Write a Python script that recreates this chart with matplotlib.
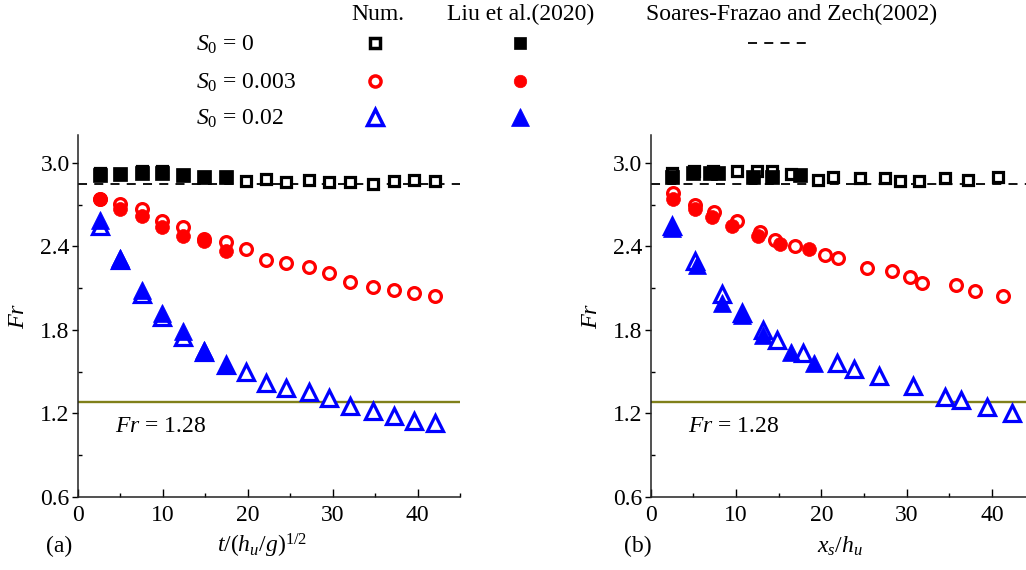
import matplotlib
matplotlib.use("Agg")
import matplotlib.pyplot as plt
from matplotlib.lines import Line2D
from matplotlib.ticker import MultipleLocator, FormatStrFormatter

FS = 17

plt.rcParams.update({
    "font.family": "Liberation Serif",
    "mathtext.fontset": "custom",
    "mathtext.rm": "Liberation Serif",
    "mathtext.it": "Liberation Serif:italic",
    "mathtext.bf": "Liberation Serif:bold",
    "font.size": FS,
})

# ---------------- data ----------------
slope_labels = [r"$S_0$ = 0", r"$S_0$ = 0.003", r"$S_0$ = 0.02"]
fr_critical = 1.28
fr_soares = 2.85

# (a) Froude number vs dimensionless time
t_num = [2.6, 4.9, 7.5, 9.9, 12.4, 14.8, 17.4, 19.8, 22.2, 24.5, 27.2, 29.6,
         32.1, 34.7, 37.2, 39.6, 42.0]
t_liu = [2.6, 4.9, 7.5, 9.9, 12.4, 14.8, 17.4]

a_num_s0 = [2.93, 2.92, 2.94, 2.94, 2.91, 2.90, 2.90, 2.87, 2.885, 2.865, 2.88,
            2.86, 2.865, 2.85, 2.87, 2.875, 2.87]
a_num_s3 = [2.74, 2.705, 2.67, 2.585, 2.54, 2.45, 2.43, 2.38, 2.30, 2.28, 2.25,
            2.21, 2.146, 2.105, 2.086, 2.067, 2.045]
a_num_s2 = [2.55, 2.30, 2.06, 1.895, 1.75, 1.645, 1.545, 1.50, 1.42, 1.38,
            1.355, 1.31, 1.255, 1.215, 1.18, 1.146, 1.13]

a_liu_s0 = [2.91, 2.92, 2.93, 2.93, 2.91, 2.90, 2.90]
a_liu_s3 = [2.74, 2.67, 2.62, 2.54, 2.475, 2.44, 2.37]
a_liu_s2 = [2.59, 2.315, 2.086, 1.92, 1.79, 1.655, 1.55]

# (b) Froude number vs dimensionless front position
b_num_s0_x = [2.5, 5.1, 7.3, 10.1, 12.5, 14.2, 16.5, 19.6, 21.4, 24.5, 27.5,
              29.2, 31.4, 34.5, 37.2, 40.7]
b_num_s0_y = [2.93, 2.94, 2.94, 2.945, 2.94, 2.945, 2.92, 2.875, 2.895, 2.89,
              2.89, 2.868, 2.873, 2.89, 2.88, 2.90]
b_num_s3_x = [2.65, 5.2, 7.4, 10.1, 12.8, 14.6, 16.9, 20.4, 22.0, 25.3, 28.3,
              30.4, 31.8, 35.8, 38.0, 41.3]
b_num_s3_y = [2.78, 2.70, 2.65, 2.58, 2.506, 2.446, 2.40, 2.34, 2.315, 2.245,
              2.22, 2.18, 2.14, 2.125, 2.08, 2.045]
b_num_s2_x = [2.5, 5.2, 8.4, 10.7, 13.2, 14.8, 17.9, 21.8, 23.8, 26.8, 30.8,
              34.5, 36.4, 39.4, 42.3]
b_num_s2_y = [2.55, 2.295, 2.06, 1.92, 1.80, 1.727, 1.637, 1.56, 1.52, 1.47,
              1.395, 1.32, 1.297, 1.25, 1.205]

b_liu_s0_x = [2.46, 5.0, 6.95, 7.9, 12.0, 14.2, 17.5]
b_liu_s0_y = [2.90, 2.925, 2.925, 2.925, 2.896, 2.90, 2.915]
b_liu_s3_x = [2.65, 5.2, 7.15, 9.5, 12.6, 15.2, 18.5]
b_liu_s3_y = [2.74, 2.67, 2.61, 2.545, 2.477, 2.415, 2.38]
b_liu_s2_x = [2.5, 5.4, 8.4, 10.7, 13.2, 16.5, 19.2]
b_liu_s2_y = [2.53, 2.267, 1.99, 1.906, 1.76, 1.643, 1.56]

# ---------------- styles ----------------
colors = ["black", "red", "blue"]
markers = ["s", "o", "^"]
open_ms = [7.5, 8.5, 11.5]
fill_ms = [10, 10, 13.5]
OLIVE = "#80801a"
DASH = (0, (5, 4))

W, H = 1026, 570
fig = plt.figure(figsize=(W / 100, H / 100), dpi=100)


def fx(px):
    return px / W


def fy(py):
    return 1 - py / H


ax_a = fig.add_axes([fx(78), fy(497), 382 / W, 362 / H])
ax_b = fig.add_axes([fx(650.7), fy(497), 383.9 / W, 362 / H])


def style_axes(ax):
    ax.set_xlim(0, 45)
    ax.set_ylim(0.6, 3.2)
    for side in ("top", "right"):
        ax.spines[side].set_visible(False)
    for side in ("left", "bottom"):
        ax.spines[side].set_linewidth(1.1)
        ax.spines[side].set_color("#222222")
    ax.xaxis.set_major_locator(MultipleLocator(10))
    ax.xaxis.set_minor_locator(MultipleLocator(5))
    ax.yaxis.set_major_locator(MultipleLocator(0.6))
    ax.yaxis.set_minor_locator(MultipleLocator(0.3))
    ax.yaxis.set_major_formatter(FormatStrFormatter("%.1f"))
    ax.tick_params(axis="x", which="major", direction="in", length=6, width=1,
                   pad=6, labelsize=FS)
    ax.tick_params(axis="x", which="minor", direction="in", length=3, width=1)
    ax.tick_params(axis="y", which="major", direction="out", length=4, width=1,
                   pad=2, labelsize=FS)
    ax.tick_params(axis="y", which="minor", direction="in", length=3, width=1)


def draw(ax, num_series, liu_series):
    ax.axhline(fr_critical, color=OLIVE, lw=1.7, zorder=1)
    ax.axhline(fr_soares, color="black", lw=1.3, ls=DASH, zorder=1)
    for i, (x, y) in enumerate(num_series):
        ax.plot(x, y, ls="none", marker=markers[i], ms=open_ms[i],
                mfc="white", mec=colors[i], mew=2.3, zorder=3)
    for i, (x, y) in enumerate(liu_series):
        ax.plot(x, y, ls="none", marker=markers[i], ms=fill_ms[i],
                mfc=colors[i], mec=colors[i], mew=0.5, zorder=4)
    ax.text(4.4, 1.105, r"$Fr$ = 1.28", fontsize=FS, va="center", ha="left")
    ax.set_ylabel(r"$Fr$", fontsize=FS + 0.5, labelpad=8)
    style_axes(ax)


draw(ax_a,
     [(t_num, a_num_s0), (t_num, a_num_s3), (t_num, a_num_s2)],
     [(t_liu, a_liu_s0), (t_liu, a_liu_s3), (t_liu, a_liu_s2)])
draw(ax_b,
     [(b_num_s0_x, b_num_s0_y), (b_num_s3_x, b_num_s3_y),
      (b_num_s2_x, b_num_s2_y)],
     [(b_liu_s0_x, b_liu_s0_y), (b_liu_s3_x, b_liu_s3_y),
      (b_liu_s2_x, b_liu_s2_y)])

# axis titles and panel tags
fig.text(fx(262), fy(546), r"$t/(h_u/g)^{1/2}$", ha="center", va="center",
         fontsize=FS)
fig.text(fx(840), fy(546), r"$x_s/h_u$", ha="center", va="center",
         fontsize=FS)
fig.text(fx(59), fy(546), "(a)", ha="center", va="center", fontsize=FS)
fig.text(fx(638), fy(546), "(b)", ha="center", va="center", fontsize=FS)

# ---------------- shared legend block ----------------
fig.text(fx(378), fy(14), "Num.", ha="center", va="center", fontsize=FS)
fig.text(fx(521), fy(14), "Liu et al.(2020)", ha="center", va="center",
         fontsize=FS)
fig.text(fx(792), fy(14), "Soares-Frazao and Zech(2002)", ha="center",
         va="center", fontsize=FS)

row_y = [43, 81, 117]
for i, lab in enumerate(slope_labels):
    fig.text(fx(196), fy(row_y[i] + 2), lab, ha="left", va="center",
             fontsize=FS)
    fig.add_artist(Line2D([fx(375)], [fy(row_y[i])], transform=fig.transFigure,
                          ls="none", marker=markers[i], ms=open_ms[i] - 0.5,
                          mfc="white", mec=colors[i], mew=2.5))
    fig.add_artist(Line2D([fx(520)], [fy(row_y[i])], transform=fig.transFigure,
                          ls="none", marker=markers[i], ms=fill_ms[i] - 1,
                          mfc=colors[i], mec=colors[i], mew=0.5))
fig.add_artist(Line2D([fx(748), fx(808)], [fy(43), fy(43)],
                      transform=fig.transFigure, color="black", lw=1.3, ls=DASH))

fig.savefig("out.png", dpi=100)
